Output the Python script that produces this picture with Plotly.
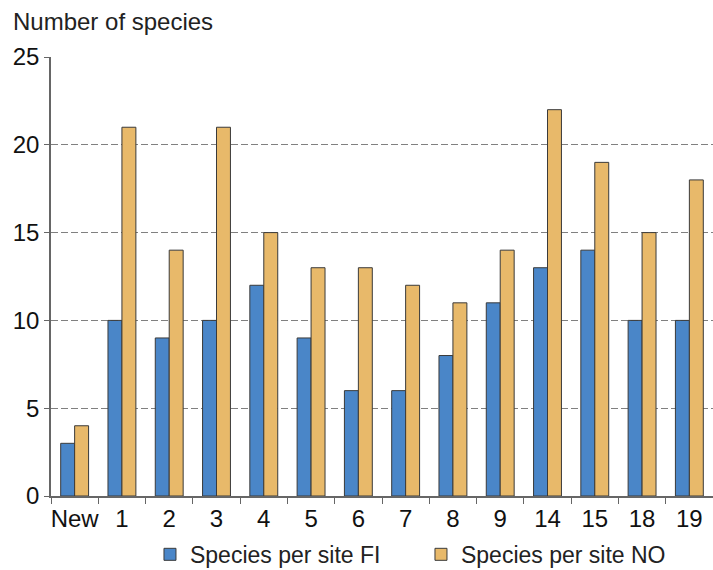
import plotly.graph_objects as go

categories = ["New", "1", "2", "3", "4", "5", "6", "7", "8", "9", "14", "15", "18", "19"]
species_fi = [3, 10, 9, 10, 12, 9, 6, 6, 8, 11, 13, 14, 10, 10]
species_no = [4, 21, 14, 21, 15, 13, 13, 12, 11, 14, 22, 19, 15, 18]
y_ticks = [0, 5, 10, 15, 20, 25]

font_family = "Liberation Sans, Arial, sans-serif"

fig = go.Figure()
fig.add_trace(go.Bar(
    x=categories, y=species_fi, name="Species per site FI",
    marker=dict(color="#4a86c8", line=dict(color="#3a3a3a", width=1)),
))
fig.add_trace(go.Bar(
    x=categories, y=species_no, name="Species per site NO",
    marker=dict(color="#e8b96a", line=dict(color="#3a3a3a", width=1)),
))

fig.update_layout(
    width=713, height=570,
    margin=dict(l=51, r=0, t=57, b=74, autoexpand=False),
    paper_bgcolor="white", plot_bgcolor="white",
    barmode="group", bargap=0.41, bargroupgap=0,
    font=dict(family=font_family, size=24, color="#111111"),
    showlegend=True,
    legend=dict(orientation="h", x=0.1495, xanchor="left", y=-0.084, yanchor="top",
                font=dict(size=23, color="#222222"),
                entrywidth=226, entrywidthmode="pixels",
                tracegroupgap=0, traceorder="normal"),
    annotations=[dict(text="Number of species", xref="paper", yref="paper",
                      x=-0.061, y=1.045, xanchor="left", yanchor="bottom",
                      showarrow=False, font=dict(size=24, color="#222222"))],
)
fig.update_xaxes(
    type="category", range=[-0.5, 13.5], tickangle=0,
    showline=True, linecolor="#666666", linewidth=1.5,
    ticks="outside", tickson="boundaries", ticklen=6, tickcolor="#666666",
    showgrid=False, tickfont=dict(size=24),
)
fig.update_yaxes(
    range=[0, 25], tickvals=y_ticks,
    showline=True, linecolor="#666666", linewidth=1.5,
    ticks="outside", ticklen=5, tickcolor="#666666",
    showgrid=True, gridcolor="#808080", gridwidth=1.4, griddash="7px,3px",
    zeroline=False, tickfont=dict(size=24),
)

fig.write_html("out.html", config={"displayModeBar": False},
               post_script="document.body.style.margin='0';")
